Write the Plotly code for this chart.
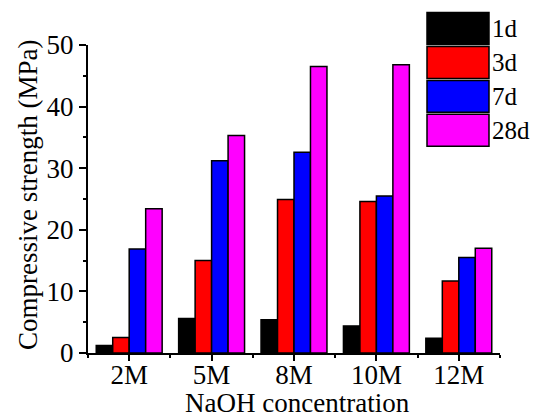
import plotly.graph_objects as go

categories = ["2M", "5M", "8M", "10M", "12M"]
series_names = ["1d", "3d", "7d", "28d"]
s_1d = [1.2, 5.6, 5.4, 4.4, 2.4]
s_3d = [2.5, 15.0, 24.9, 24.6, 11.7]
s_7d = [16.9, 31.2, 32.6, 25.5, 15.5]
s_28d = [23.4, 35.3, 46.5, 46.8, 17.0]
y_ticks = [0, 10, 20, 30, 40, 50]

series_values = [s_1d, s_3d, s_7d, s_28d]
colors = ["#000000", "#FF0000", "#0000FF", "#FF00FF"]

# the page body has an 8px default margin; lay out in screen pixels and shift
OFF = 8
SW, SH = 538, 417              # screen size
W, H = SW - OFF, SH - OFF      # figure size
# plot area in screen pixels
PX0, PX1, PY0, PY1 = 88, 500, 44.5, 353.5
L, R, T, B = PX0 - OFF, SW - PX1, PY0 - OFF, SH - PY1
FONT = "Liberation Serif, Times New Roman, serif"

xpos = list(range(len(categories)))

fig = go.Figure()
for name, vals, c in zip(series_names, series_values, colors):
    fig.add_trace(go.Bar(
        x=xpos, y=vals, name=name, marker_color=c,
        marker_line_color="black", marker_line_width=1.5,
        showlegend=False,
    ))

def px_x(sx):
    return (sx - PX0) / (PX1 - PX0)

def px_y(sy):
    return (PY1 - sy) / (PY1 - PY0)

# manual legend (large swatches like the original)
box_tops = [12, 46, 80, 114]
box_h = 32
shapes = []
annotations = []
for name, c, top in zip(series_names, colors, box_tops):
    shapes.append(dict(type="rect", xref="paper", yref="paper",
                       x0=px_x(427), x1=px_x(489), y0=px_y(top + box_h), y1=px_y(top),
                       fillcolor=c, line=dict(color="black", width=1.5)))
    annotations.append(dict(xref="paper", yref="paper", x=px_x(491), y=px_y(top + box_h / 2),
                            text=name, showarrow=False, xanchor="left", yanchor="middle",
                            borderpad=0,
                            font=dict(family=FONT, size=25, color="black")))

# axis titles
annotations.append(dict(xref="paper", yref="paper", x=px_x(297), y=px_y(403.5),
                        text="NaOH concentration", showarrow=False,
                        xanchor="center", yanchor="middle", borderpad=0,
                        font=dict(family=FONT, size=27, color="black")))
annotations.append(dict(xref="paper", yref="paper", x=px_x(28), y=px_y(195),
                        text="Compressive strength (MPa)", showarrow=False, textangle=-90,
                        xanchor="center", yanchor="middle",
                        font=dict(family=FONT, size=27, color="black")))

fig.update_layout(
    width=W, height=H,
    margin=dict(l=L, r=R, t=T, b=B, autoexpand=False),
    paper_bgcolor="white", plot_bgcolor="white",
    barmode="group", bargap=0.2, bargroupgap=0,
    font=dict(family=FONT, size=27, color="black"),
    shapes=shapes, annotations=annotations,
    xaxis=dict(
        range=[-0.5, 4.5], tickmode="array", tickvals=xpos, ticktext=categories,
        showline=True, linecolor="black", linewidth=2, mirror=False,
        ticks="outside", ticklen=6, tickwidth=2, tickcolor="black",
        minor=dict(tickmode="linear", tick0=0.5, dtick=1, ticks="outside", ticklen=3,
                   tickwidth=2, tickcolor="black"),
        showgrid=False, zeroline=False, automargin=False,
        ticklabelstandoff=-9,
        tickfont=dict(size=27),
    ),
    yaxis=dict(
        range=[0, 50], tickmode="array", tickvals=y_ticks,
        showline=True, linecolor="black", linewidth=2, mirror=False,
        ticks="outside", ticklen=7, tickwidth=2, tickcolor="black",
        minor=dict(tickmode="linear", tick0=5, dtick=10, ticks="outside", ticklen=3,
                   tickwidth=2, tickcolor="black"),
        showgrid=False, zeroline=False, automargin=False,
        tickfont=dict(size=27),
    ),
)

fig.write_html("out.html")
